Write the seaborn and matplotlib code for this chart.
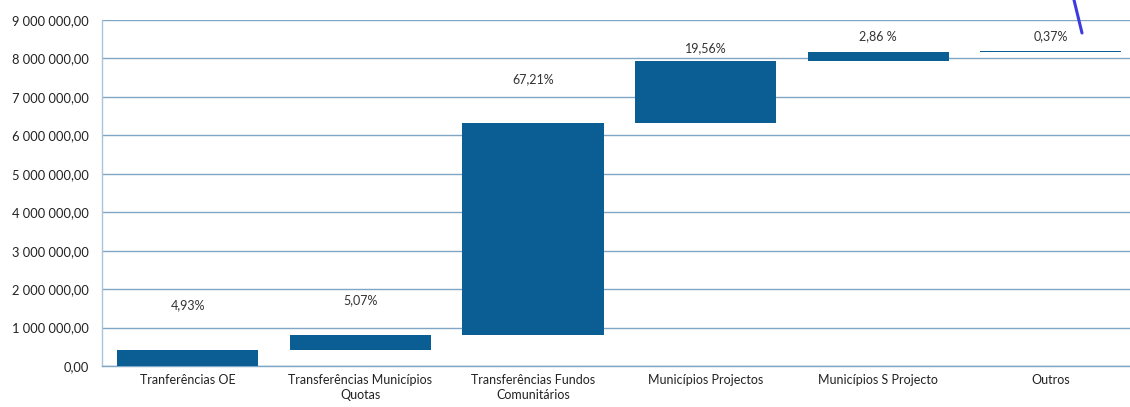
import numpy as np
import pandas as pd
import matplotlib
matplotlib.use("Agg")
import matplotlib.pyplot as plt
from matplotlib.lines import Line2D
import seaborn as sns

# ---- data ----
categories = [
    "Tranferências OE",
    "Transferências Municípios\nQuotas",
    "Transferências Fundos\nComunitários",
    "Municípios Projectos",
    "Municípios S Projecto",
    "Outros",
]
increments = [404000, 415000, 5505000, 1602000, 234000, 30000]
pct_labels = ["4,93%", "5,07%", "67,21%", "19,56%", "2,86 %", "0,37%"]
label_heights = [1590000, 1720000, 7450000, 8280000, 8570000, 8590000]
yticks = [0, 1e6, 2e6, 3e6, 4e6, 5e6, 6e6, 7e6, 8e6, 9e6]
ytick_labels = ["0,00", "1 000 000,00", "2 000 000,00", "3 000 000,00",
                "4 000 000,00", "5 000 000,00", "6 000 000,00", "7 000 000,00",
                "8 000 000,00", "9 000 000,00"]

bottoms = np.concatenate([[0], np.cumsum(increments)[:-1]])
df = pd.DataFrame({"cat": categories, "inc": increments, "base": bottoms})

sns.set_theme(style="white")
plt.rcParams["font.family"] = ["Lato", "DejaVu Sans"]

W, H = 1130, 407
fig = plt.figure(figsize=(W / 100, H / 100), dpi=100)
ax = fig.add_axes([101.5 / W, 41 / H, 1035.6 / W, 346 / H])

bar_color = "#0B5E94"
grid_color = "#7FA6C4"

# waterfall: draw increments, then lift each bar onto its running base
sns.barplot(data=df, x="cat", y="inc", color=bar_color, width=0.817,
            saturation=1, ax=ax, zorder=3, linewidth=0)
for patch, base in zip(ax.patches, df["base"]):
    patch.set_y(base)

ax.set_ylim(0, 9e6)
ax.set_xlim(-0.5, len(categories) - 0.5)
ax.set_yticks(yticks)
ax.set_yticklabels(ytick_labels, fontsize=9.3, color="#222222")
ax.set_xticks(range(len(categories)))
ax.set_xticklabels(categories, fontsize=9, color="#222222", linespacing=1.25)
ax.set_xlabel("")
ax.set_ylabel("")

for y in yticks:
    ax.axhline(y, color=grid_color, lw=1.0, zorder=1)

for s in ["top", "right"]:
    ax.spines[s].set_visible(False)
ax.spines["left"].set_color("#A9C4D8")
ax.spines["left"].set_linewidth(1.0)
ax.spines["bottom"].set_color(grid_color)
ax.spines["bottom"].set_linewidth(1.0)

# category separator ticks
ax.set_xticks(np.arange(-0.5, len(categories), 1.0), minor=True)
ax.tick_params(axis="x", which="minor", length=4, color="#8FA8BC", width=1, direction="out")
ax.tick_params(axis="x", which="major", length=0, pad=6)
ax.tick_params(axis="y", which="major", length=5, color="#8FA8BC", width=1, pad=4, direction="out")

for i, (lab, h) in enumerate(zip(pct_labels, label_heights)):
    ax.text(i, h, lab, ha="center", va="center", fontsize=9, color="#333333")

# hand-drawn pen mark
fig.add_artist(Line2D([1074 / W, 1082 / W], [1 - 0 / H, 1 - 33 / H],
                      transform=fig.transFigure, color="#3B3BE0", lw=2.2,
                      solid_capstyle="round"))

fig.savefig("out.png", dpi=100)
